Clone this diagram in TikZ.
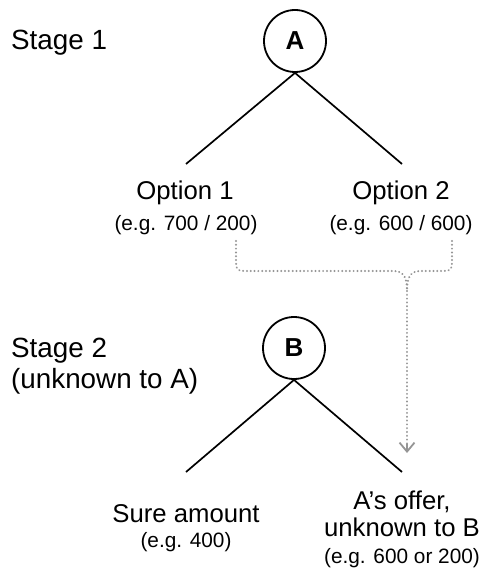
\documentclass[tikz,border=0pt]{standalone}
\usepackage{fontspec}
\setmainfont{Liberation Sans}
\usetikzlibrary{arrows.meta}
\definecolor{dotgray}{HTML}{959595}
\begin{document}
\begin{tikzpicture}[x=1pt,y=-1pt,
  player/.style={circle,draw,line width=1.8pt,minimum size=62pt,inner sep=0pt,font=\fontsize{26}{26}\selectfont\bfseries},
  edge/.style={line width=1.7pt},
  big/.style={font=\fontsize{25.7}{27}\selectfont,inner sep=0pt,anchor=base},
  small/.style={font=\fontsize{20.8}{24}\selectfont,inner sep=0pt,anchor=base},
  stage/.style={font=\fontsize{27.8}{31}\selectfont,inner sep=0pt,anchor=base west},
  hint/.style={dotgray,line width=2.2pt,dash pattern=on 0.01pt off 3.8pt,line cap=round}
]
\useasboundingbox (0,0) rectangle (483,569);
% Stage labels
\node[stage] (s1) at (11,50) {Stage 1};
\node[stage] (s2) at (11,357) {Stage 2};
\node[stage] (s2b) at (11,388) {(unknown to A)};
% players
\node[player] (A) at (295,41) {A};
\node[player] (B) at (294,348) {B};
% stage 1 leaves
\coordinate (a1) at (186,164);
\coordinate (a2) at (402,164);
\draw[edge] (A.south) -- (a1);
\draw[edge] (A.south) -- (a2);
\node[big] (o1) at (185,200) {Option 1};
\node[small] (o1e) at (186,230) {(e.g. 700 / 200)};
\node[big] (o2) at (401,200) {Option 2};
\node[small] (o2e) at (401,230) {(e.g. 600 / 600)};
% stage 2 leaves
\coordinate (b1) at (186,472);
\coordinate (b2) at (402,472);
\draw[edge] (B.south) -- (b1);
\draw[edge] (B.south) -- (b2);
\node[big] (sa) at (186,522) {Sure amount};
\node[small] (sae) at (186,547) {(e.g. 400)};
\node[big] (ao) at (402,509) {A’s offer,};
\node[big] (ao2) at (402,536) {unknown to B};
\node[small] (aoe) at (402,563) {(e.g. 600 or 200)};
% dotted brace
\coordinate (l0) at (236,241);
\coordinate (r0) at (452,241);
\coordinate (m) at (407,291);
\coordinate (t) at (407,453);
\draw[hint] (l0) -- (236,257) .. controls (236,271) .. (250,271) -- (394,271) .. controls (405,271) and (407,280) .. (m);
\draw[hint] (r0) -- (452,257) .. controls (452,271) .. (438,271) -- (420,271) .. controls (409,271) and (407,280) .. (m);
\draw[hint] (m) -- (407,448);
\draw[dotgray,line width=1.8pt,-{Straight Barb[length=9pt,width=15pt]}] (407,444) -- (t);
\end{tikzpicture}
\end{document}
